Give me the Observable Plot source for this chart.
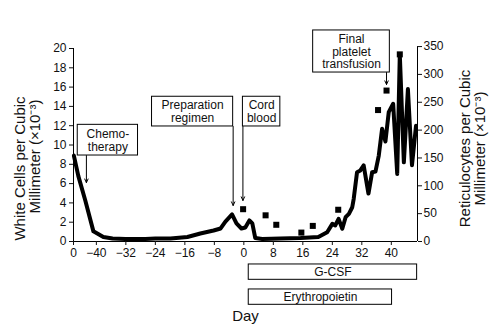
<!DOCTYPE html>
<html><head><meta charset="utf-8">
<script src="https://cdn.jsdelivr.net/npm/d3@7"></script>
<script src="https://cdn.jsdelivr.net/npm/@observablehq/plot@0.6"></script>
<style>body{margin:0;background:#fff;}</style>
</head><body><div id="chart"></div>
<script>
// ---- Data ----
const xStart = -46.2, xEnd = 47.1;
const dayTicks = [-46.2, -40, -32, -24, -16, -8, 0, 8, 16, 24, 32, 40];
const dayTickLabels = ["0", "−40", "−32", "−24", "−16", "−8", "0", "8", "16", "24", "32", "40"];
const whiteTicks = [0, 2, 4, 6, 8, 10, 12, 14, 16, 18, 20];
const retTicks = [0, 50, 100, 150, 200, 250, 300, 350];

// White cells (x10^-3 per mm^3), black line
const wbcDays = [-46.1,-44.9,-43.0,-40.8,-38.1,-35.6,-32.1,-26.7,-24.0,-19.9,-15.3,-11.8,-8.2,-6.3,-5.0,-3.2,-2.0,-0.65,0.4,1.5,2.3,3.1,5.0,9.9,15.4,20.2,22.6,24.0,24.8,25.7,26.7,27.6,28.5,29.4,29.8,30.7,31.6,32.5,33.8,34.8,35.7,36.6,37.5,38.4,39.3,40.5,41.6,42.3,43.4,44.5,45.6,46.7];
const wbcValues = [8.9,6.8,4.25,1.05,0.47,0.31,0.26,0.26,0.31,0.31,0.47,0.83,1.14,1.35,2.07,2.8,1.87,1.35,1.45,2.18,1.87,0.36,0.26,0.31,0.36,0.47,0.96,1.83,1.66,2.35,1.32,2.52,2.87,3.55,4.42,7.18,7.36,7.88,4.97,7.18,7.25,8.9,11.68,10.36,13.4,14.27,7.0,19.4,8.2,15.8,7.9,12.0];

// Reticulocytes (x10^-3 per mm^3), squares, right axis
const retDays = [-0.2, 5.9, 8.8, 15.6, 18.7, 25.6, 36.4, 38.7, 42.3];
const retValues = [58, 47, 30, 16, 28, 57, 236, 271, 336];

// Event annotations
const eventLabels = ["Chemo-\ntherapy", "Preparation\nregimen", "Cord\nblood", "Final\nplatelet\ntransfusion"];
const eventDays = [-42.7, -2.9, -0.25, 38.7];
const eventTips = [6.1, 3.73, 4.25, 16.27];
const eventBoxX1 = [-45.05, -24.9, -0.25, 18.8];
const eventBoxX2 = [-28.7, -2.9, 9.9, 39.6];
const eventBoxTop = [12.09, 15.0, 15.0, 21.87];
const eventBoxBottom = [8.91, 11.92, 11.92, 17.51];

// Treatment periods
const treatmentNames = ["G-CSF", "Erythropoietin"];
const treatmentStart = [1.33, 1.33];
const treatmentEnd = [47.0, 40.2];

// ---- Build ----
const k = 20.2 / 350; // right-axis units -> left-axis units
const FONT = "'Liberation Sans', Arial, Helvetica, sans-serif";
const wbc = wbcDays.map((d, i) => ({day: d, value: wbcValues[i]}));
const ret = retDays.map((d, i) => ({day: d, value: retValues[i] * k}));
const events = eventLabels.map((l, i) => ({label: l, day: eventDays[i], tip: eventTips[i],
  x1: eventBoxX1[i], x2: eventBoxX2[i], top: eventBoxTop[i], bottom: eventBoxBottom[i]}));
const treatments = treatmentNames.map((n, i) => ({name: n, start: treatmentStart[i], end: treatmentEnd[i],
  top: -2.38 - 2.59 * i, bottom: -2.38 - 2.59 * i - 1.59}));
const tickLabel = new Map(dayTicks.map((d, i) => [d, dayTickLabels[i]]));

const chart = Plot.plot({
  width: 500, height: 331,
  marginLeft: 73, marginRight: 83, marginTop: 48, marginBottom: 90,
  style: {fontFamily: FONT, fontSize: "12px", background: "white", color: "#111"},
  x: {domain: [xStart, xEnd]},
  y: {domain: [0, 20]},
  marks: [
    Plot.ruleY([0], {stroke: "black", strokeWidth: 1}),
    Plot.ruleX([xStart], {y1: 0, y2: 20, stroke: "black"}),
    Plot.ruleX([xEnd], {y1: 0, y2: 350 * k, stroke: "black"}),
    Plot.axisY(whiteTicks, {anchor: "left", tickSize: 4, tickPadding: 3, label: null, fontSize: 12}),
    Plot.axisY(retTicks.map(r => r * k), {anchor: "right", tickSize: 4, tickPadding: 2, label: null, fontSize: 12,
      tickFormat: d => String(Math.round(d / k))}),
    Plot.axisX(dayTicks, {tickSize: 4, tickPadding: 3, label: null, fontSize: 12, tickFormat: d => tickLabel.get(d)}),
    Plot.line(wbc, {x: "day", y: "value", stroke: "black", strokeWidth: 4}),
    Plot.dot(ret, {x: "day", y: "value", symbol: "square", r: 3.4, fill: "black", stroke: null}),
    Plot.arrow(events, {x1: "day", x2: "day", y1: "bottom", y2: "tip", stroke: "black", strokeWidth: 1, headLength: 6, headAngle: 50}),
    Plot.rect(events, {x1: "x1", x2: "x2", y1: "bottom", y2: "top", fill: "white", stroke: "black", strokeWidth: 1}),
    Plot.text(events, {x: d => (d.x1 + d.x2) / 2, y: d => (d.top + d.bottom) / 2, text: "label", fontSize: 12, lineHeight: 1.05, fill: "#111"}),
    Plot.rect(treatments, {x1: "start", x2: "end", y1: "bottom", y2: "top", fill: "white", stroke: "black", strokeWidth: 1}),
    Plot.text(treatments, {x: d => (d.start + d.end) / 2, y: d => (d.top + d.bottom) / 2, text: "name", fontSize: 12, fill: "#111"}),
    Plot.text(["White Cells per Cubic"], {frameAnchor: "left", textAnchor: "middle", rotate: -90, dx: 20 - 73, dy: 168 - 144.5, fontSize: 15, fill: "#111"}),
    Plot.text(["Millimeter (×10⁻³)"], {frameAnchor: "left", textAnchor: "middle", rotate: -90, dx: 35 - 73, dy: 156 - 144.5, fontSize: 15, fill: "#111"}),
    Plot.text(["Reticulocytes per Cubic"], {frameAnchor: "right", textAnchor: "middle", rotate: -90, dx: 465 - 417, dy: 148 - 144.5, fontSize: 15, fill: "#111"}),
    Plot.text(["Millimeter (×10⁻³)"], {frameAnchor: "right", textAnchor: "middle", rotate: -90, dx: 480 - 417, dy: 148 - 144.5, fontSize: 15, fill: "#111"}),
    Plot.text(["Day"], {frameAnchor: "bottom", dy: 79, fontSize: 15, fill: "#111"})
  ]
});
document.getElementById("chart").appendChild(chart);
</script>
</body></html>
